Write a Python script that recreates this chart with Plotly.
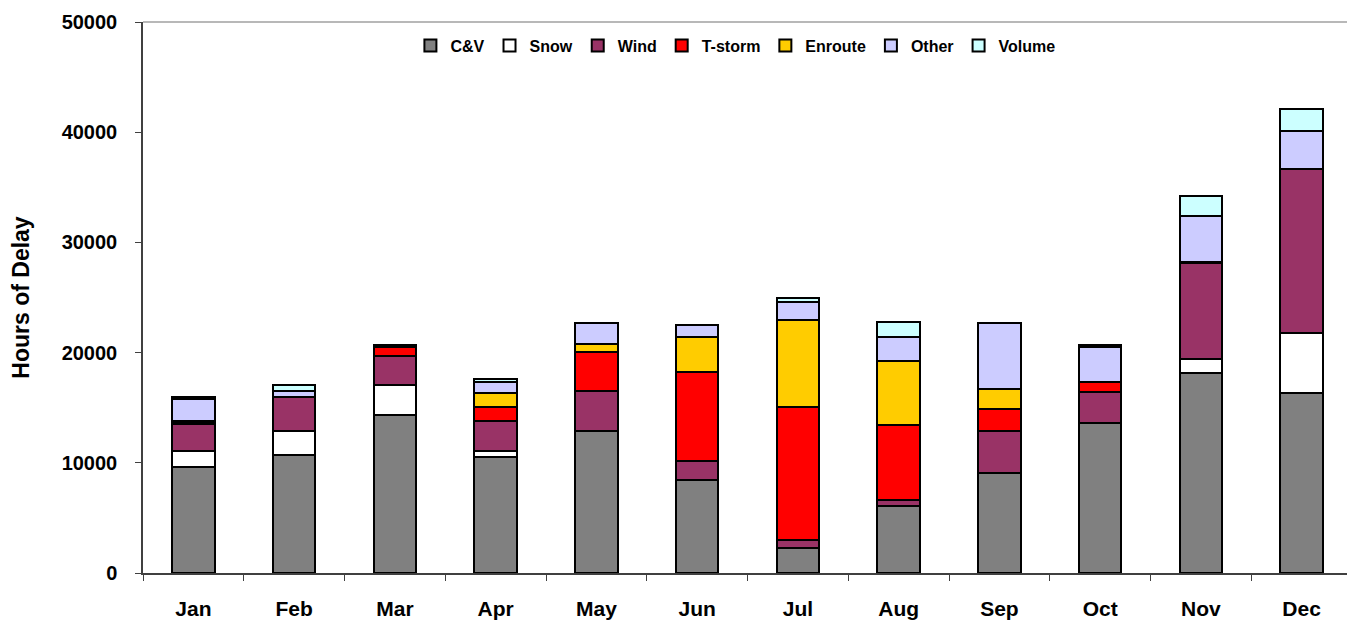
import plotly.graph_objects as go

months = ["Jan", "Feb", "Mar", "Apr", "May", "Jun", "Jul", "Aug", "Sep", "Oct", "Nov", "Dec"]

cv      = [9630, 10750, 14360, 10530, 12880, 8430, 2260, 6080, 9090, 13605, 18120, 16315]
snow    = [1445, 2130, 2710, 545, 0, 0, 0, 0, 0, 0, 1300, 5420]
wind    = [2475, 3075, 2650, 2710, 3615, 1740, 750, 540, 3790, 2865, 8730, 14940]
tstorm  = [150, 0, 750, 1265, 3585, 8105, 12040, 6840, 1960, 900, 100, 0]
enroute = [50, 0, 50, 1265, 695, 3100, 7950, 5745, 1835, 0, 0, 0]
other   = [2000, 550, 150, 1055, 1895, 1085, 1600, 2170, 5995, 3100, 4120, 3435]
volume  = [200, 600, 0, 250, 0, 0, 390, 1445, 0, 220, 1800, 2040]

series = [
    ("C&V", cv, "#808080"),
    ("Snow", snow, "#FFFFFF"),
    ("Wind", wind, "#993366"),
    ("T-storm", tstorm, "#FF0000"),
    ("Enroute", enroute, "#FFCC00"),
    ("Other", other, "#CCCCFF"),
    ("Volume", volume, "#CCFFFF"),
]

FONT = "Arial, Liberation Sans, sans-serif"

fig = go.Figure()
for name, vals, color in series:
    fig.add_trace(go.Bar(
        x=months, y=vals, name=name,
        marker=dict(color=color, line=dict(color="black", width=2)),
    ))

fig.update_layout(
    barmode="stack",
    bargap=0.58,
    width=1347, height=618,
    margin=dict(l=135, r=3, t=11, b=53),
    paper_bgcolor="white",
    plot_bgcolor="white",
    font=dict(family=FONT, color="black", size=16, weight="bold"),
    showlegend=True,
    legend=dict(
        orientation="h",
        x=0.49, xanchor="center",
        y=0.957, yanchor="middle",
        font=dict(family=FONT, size=16, weight="bold", color="black"),
        bgcolor="rgba(0,0,0,0)",
        itemwidth=30,
        traceorder="normal",
        tracegroupgap=0,
    ),
    xaxis=dict(
        type="category",
        tickson="boundaries",
        ticks="outside",
        ticklen=6,
        tickcolor="#404040",
        showline=True,
        linecolor="#404040",
        linewidth=1.5,
        showgrid=False,
        ticklabelstandoff=16,
        tickfont=dict(family=FONT, size=21, weight="bold", color="black"),
    ),
    yaxis=dict(
        range=[0, 50000],
        dtick=10000,
        ticks="outside",
        ticklen=6,
        tickcolor="#404040",
        showline=True,
        linecolor="#404040",
        linewidth=1.5,
        showgrid=False,
        zeroline=False,
        tickformat="d",
        ticklabelstandoff=14,
        tickfont=dict(family=FONT, size=20, weight="bold", color="black"),
        title=dict(text="Hours of Delay", standoff=26,
                   font=dict(family=FONT, size=23, weight="bold", color="black")),
    ),
    shapes=[
        dict(type="line", xref="paper", yref="paper", x0=0, x1=1, y0=1, y1=1,
             line=dict(color="#A0A0A0", width=1.5)),
        dict(type="line", xref="paper", yref="paper", x0=1, x1=1, y0=0, y1=1,
             line=dict(color="#A0A0A0", width=1.5)),
    ],
)

fig.write_html("out.html")
